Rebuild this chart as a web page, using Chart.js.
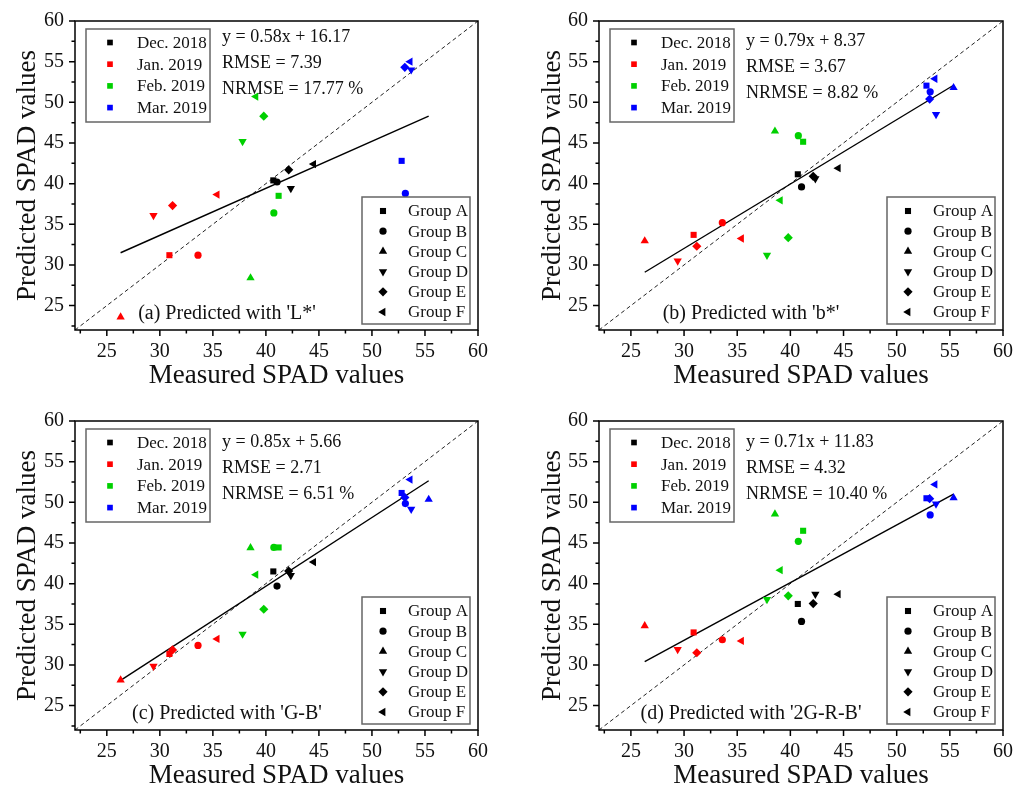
<!DOCTYPE html>
<html lang="en">
<head>
<meta charset="UTF-8">
<title>Predicted vs measured SPAD</title>
<style>
  html, body { margin: 0; padding: 0; background: #fff; overflow: hidden; }
  #fig { position: relative; width: 1026px; height: 794px; }
  canvas { position: absolute; }
</style>
</head>
<body>
<div id="fig">
  <canvas id="chartA" width="510" height="400" style="left:0;top:0"></canvas>
  <canvas id="chartB" width="501" height="400" style="left:525px;top:0"></canvas>
  <canvas id="chartC" width="510" height="400" style="left:0;top:400px"></canvas>
  <canvas id="chartD" width="501" height="400" style="left:525px;top:400px"></canvas>
</div>
<script src="https://cdn.jsdelivr.net/npm/chart.js"></script>
<script>
// ---- data ----
const months = ['Dec. 2018', 'Jan. 2019', 'Feb. 2019', 'Mar. 2019'];
const groups = ['Group A', 'Group B', 'Group C', 'Group D', 'Group E', 'Group F'];
const tickVals = [25, 30, 35, 40, 45, 50, 55, 60];
const axisMin = 22, axisMax = 60;

// measured SPAD, one value per group (A..F)
const measDec = [40.7, 41.05, null, 42.35, 42.15, 44.5];
const measJan = [30.9, 33.6, 26.3, 29.4, 31.2, 35.4];
const measFeb = [41.2, 40.75, 38.55, 37.8, 39.8, 39.05];
const measMar = [52.8, 53.15, 55.35, 53.7, 53.1, 53.6];

// (a) predicted with L*
const predL_Dec = [40.4, 40.2, null, 39.4, 41.7, 42.4];
const predL_Jan = [31.2, 31.2, 23.6, 36.1, 37.3, 38.65];
const predL_Feb = [38.5, 36.4, 28.4, 45.2, 48.3, 50.7];
const predL_Mar = [42.8, 38.8, null, 54.0, 54.3, 55.0];
// (b) predicted with b*
const predB_Dec = [41.15, 39.6, null, 40.6, 40.9, 41.9];
const predB_Jan = [33.7, 35.2, 32.95, 30.5, 32.3, 33.25];
const predB_Feb = [45.15, 45.9, 46.45, 31.2, 33.35, 37.95];
const predB_Mar = [52.05, 51.3, 51.8, 48.5, 50.4, 52.9];
// (c) predicted with G-B
const predGB_Dec = [41.5, 39.7, null, 41.0, 41.55, 42.65];
const predGB_Jan = [31.35, 32.4, 28.15, 29.85, 31.85, 33.2];
const predGB_Feb = [44.45, 44.45, 44.4, 33.8, 36.85, 41.1];
const predGB_Mar = [51.15, 49.85, 50.35, 49.15, 50.6, 52.8];
// (d) predicted with 2G-R-B
const pred2G_Dec = [37.5, 35.35, null, 38.7, 37.55, 38.7];
const pred2G_Jan = [34.0, 33.1, 34.8, 31.9, 31.5, 32.95];
const pred2G_Feb = [46.5, 45.2, 48.55, 38.05, 38.5, 41.65];
const pred2G_Mar = [50.5, 48.45, 50.55, 49.8, 50.45, 52.2];

// fitted lines, end points [x, y]
const fitL = [[26.3, 31.5], [55.35, 48.3]];
const fitB = [[26.3, 29.1], [55.35, 52.1]];
const fitGB = [[26.3, 28.1], [55.35, 52.65]];
const fit2G = [[26.3, 30.4], [55.35, 51.0]];

const statsL = ['y = 0.58x + 16.17', 'RMSE = 7.39', 'NRMSE = 17.77 %'];
const statsB = ['y = 0.79x + 8.37', 'RMSE = 3.67', 'NRMSE = 8.82 %'];
const statsGB = ['y = 0.85x + 5.66', 'RMSE = 2.71', 'NRMSE = 6.51 %'];
const stats2G = ['y = 0.71x + 11.83', 'RMSE = 4.32', 'NRMSE = 10.40 %'];

// ---- styles ----
const monthColors = ['#000000', '#ff0000', '#00d000', '#0000ff'];
const groupStyle = ['rect', 'circle', 'triangle', 'triangle', 'rectRot', 'triangle'];
const groupRot = [0, 0, 0, 180, 0, 270];
const groupRadius = [4.3, 3.6, 4.8, 4.8, 4.6, 4.8];
const serif = "'Liberation Serif', 'Times New Roman', serif";
const measured = [measDec, measJan, measFeb, measMar];

function drawMark(ctx, i, r, x, y, color) {
  ctx.fillStyle = color;
  Chart.helpers.drawPoint(ctx, {pointStyle: groupStyle[i], rotation: groupRot[i], radius: r, borderWidth: 0}, x, y);
}

const decor = {
  id: 'decor',
  afterDraw(chart, args, o) {
    const ctx = chart.ctx, a = chart.chartArea;
    const xs = chart.scales.x, ys = chart.scales.y;
    ctx.save();
    // frame + tick marks
    ctx.strokeStyle = '#000';
    ctx.lineWidth = 1.5;
    ctx.strokeRect(a.left, a.top, a.right - a.left, a.bottom - a.top);
    ctx.beginPath();
    for (let v = axisMin + 0.5; v <= axisMax; v += 2.5) {
      const len = v % 5 === 0 ? 6 : 3.5;
      const px = xs.getPixelForValue(v), py = ys.getPixelForValue(v);
      ctx.moveTo(px, a.bottom); ctx.lineTo(px, a.bottom + len);
      ctx.moveTo(a.left, py); ctx.lineTo(a.left - len, py);
    }
    ctx.stroke();

    // month legend
    ctx.strokeStyle = '#666';
    ctx.lineWidth = 1.5;
    let bx = a.left + 11, by = a.top + 8;
    ctx.strokeRect(bx, by, 124, 93);
    ctx.font = '17px ' + serif;
    ctx.textBaseline = 'middle';
    ctx.textAlign = 'left';
    months.forEach((m, k) => {
      const ry = by + 13.5 + k * 21.7;
      drawMark(ctx, 0, 4, bx + 24, ry, monthColors[k]);
      ctx.fillStyle = '#111';
      ctx.fillText(m, bx + 51, ry + 1);
    });

    // group legend
    bx = a.right - 8 - 108; by = a.bottom - 6 - 127;
    ctx.strokeStyle = '#666';
    ctx.strokeRect(bx, by, 108, 127);
    groups.forEach((g, i) => {
      const ry = by + 14 + i * 20.2;
      drawMark(ctx, i, groupRadius[i], bx + 21, ry, '#000');
      ctx.fillStyle = '#111';
      ctx.fillText(g, bx + 46, ry + 1);
    });

    // statistics and panel label
    ctx.font = '18px ' + serif;
    o.stats.forEach((s, j) => ctx.fillText(s, a.left + 147, a.top + o.statY + j * 26));
    ctx.font = '20px ' + serif;
    ctx.textAlign = 'center';
    ctx.fillText(o.label, a.left + 152, a.bottom - 16);
    ctx.restore();
  }
};

function makeChart(id, preds, fit, stats, label, statY, rightPad, yWidth) {
  const sets = months.map((m, k) => {
    const idx = [0, 1, 2, 3, 4, 5].filter(i => measured[k][i] != null && preds[k][i] != null);
    return {
      type: 'scatter',
      label: m,
      data: idx.map(i => ({x: measured[k][i], y: preds[k][i]})),
      pointStyle: idx.map(i => groupStyle[i]),
      pointRotation: idx.map(i => groupRot[i]),
      pointRadius: idx.map(i => groupRadius[i]),
      pointBackgroundColor: monthColors[k],
      backgroundColor: monthColors[k],
      pointBorderWidth: 0,
      order: 0
    };
  });
  sets.push({
    type: 'line', label: 'fit',
    data: fit.map(p => ({x: p[0], y: p[1]})),
    borderColor: '#000', borderWidth: 1.4, pointRadius: 0, fill: false, order: 1
  });
  sets.push({
    type: 'line', label: '1:1',
    data: [{x: axisMin, y: axisMin}, {x: axisMax, y: axisMax}],
    borderColor: '#222', borderWidth: 1, borderDash: [4, 3], pointRadius: 0, fill: false, order: 2
  });

  const axis = (title, isX) => ({
    type: 'linear', min: axisMin, max: axisMax,
    afterBuildTicks: s => { s.ticks = tickVals.map(v => ({value: v})); },
    afterFit: s => { if (isX) s.height = 70; else s.width = yWidth; },
    grid: {drawOnChartArea: false, drawTicks: true, tickLength: 6, color: 'rgba(0,0,0,0)'},
    border: {display: false},
    ticks: {color: '#111', font: {family: serif, size: 20}, padding: isX ? 4 : 5, autoSkip: false, maxRotation: 0},
    title: {display: true, text: title, color: '#111', font: {family: serif, size: 27},
            padding: isX ? {top: 0, bottom: 8} : {top: 12, bottom: 0}}
  });

  return new Chart(document.getElementById(id), {
    type: 'scatter',
    data: {datasets: sets},
    options: {
      responsive: false,
      animation: false,
      layout: {padding: {left: 0, top: 21, right: rightPad, bottom: 0}},
      scales: {
        x: axis('Measured SPAD values', true),
        y: axis('Predicted SPAD values', false)
      },
      plugins: {
        legend: {display: false},
        tooltip: {enabled: false},
        decor: {stats: stats, label: label, statY: statY}
      }
    },
    plugins: [decor]
  });
}

makeChart('chartA', [predL_Dec, predL_Jan, predL_Feb, predL_Mar], fitL, statsL, "(a) Predicted with 'L*'", 16, 32, 75);
makeChart('chartB', [predB_Dec, predB_Jan, predB_Feb, predB_Mar], fitB, statsB, "(b) Predicted with 'b*'", 20, 23, 74);
makeChart('chartC', [predGB_Dec, predGB_Jan, predGB_Feb, predGB_Mar], fitGB, statsGB, "(c) Predicted with 'G-B'", 21, 32, 75);
makeChart('chartD', [pred2G_Dec, pred2G_Jan, pred2G_Feb, pred2G_Mar], fit2G, stats2G, "(d) Predicted with '2G-R-B'", 21, 23, 74);
</script>
</body>
</html>
